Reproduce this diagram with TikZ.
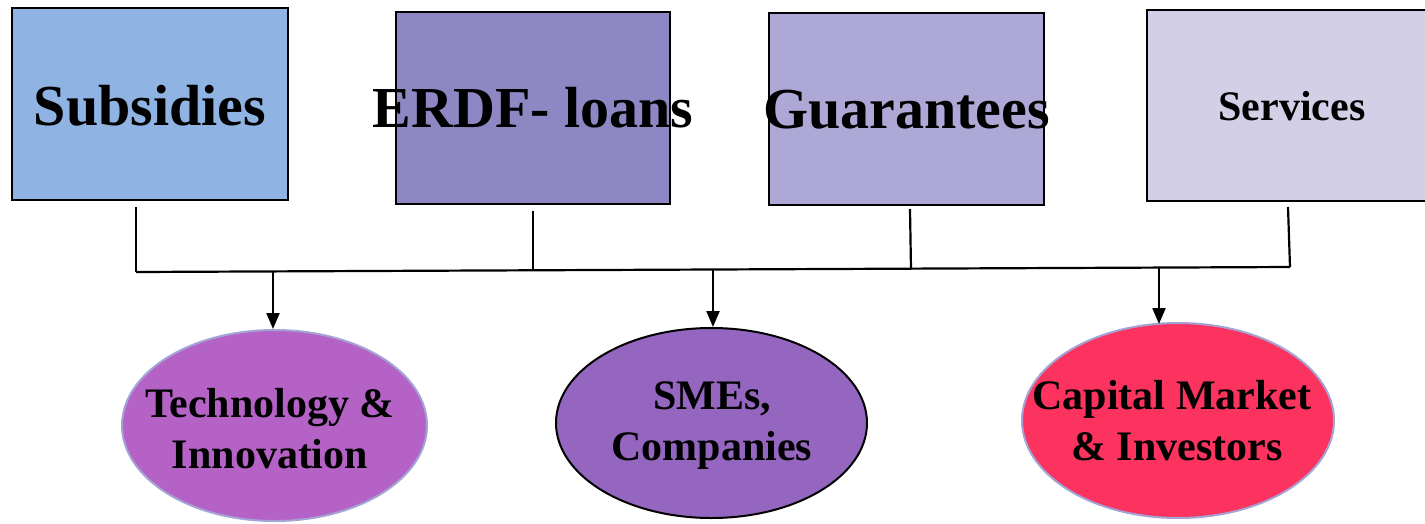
\documentclass[tikz,border=0pt]{standalone}
\usepackage{fontspec}
\setmainfont{Liberation Serif}
\usetikzlibrary{shapes.geometric,arrows.meta}
\definecolor{cSub}{HTML}{8FB4E3}
\definecolor{cErdf}{HTML}{8D87C4}
\definecolor{cGua}{HTML}{ADA8D5}
\definecolor{cSer}{HTML}{D3CFE7}
\definecolor{cTech}{HTML}{B562C6}
\definecolor{cSme}{HTML}{9566C0}
\definecolor{cCap}{HTML}{FB335E}
\definecolor{cRim}{HTML}{A3A3D6}
\tikzset{
  box/.style={draw=black, line width=2pt, inner sep=0pt, font=\bfseries\fontsize{58}{66}\selectfont},
  oval/.style={ellipse, line width=2pt, inner sep=0pt},
  ovaltext/.style={align=center, inner sep=0pt, font=\bfseries\fontsize{42}{51}\selectfont},
  wire/.style={line width=2.2pt},
  arrow/.style={line width=2.2pt, -{Triangle[length=16pt,width=13pt]}}
}
\begin{document}
\begin{tikzpicture}[x=1pt,y=-1pt]
\useasboundingbox (0,0) rectangle (1425,523);
\clip (0,0) rectangle (1425,523);
% boxes
\node[box, fill=cSub, minimum width=276pt, minimum height=192pt] (s1) at (150,104) {};
\node[box, fill=cErdf, minimum width=274pt, minimum height=192pt] (s2) at (533,108) {};
\node[box, fill=cGua, minimum width=275pt, minimum height=192pt] (s3) at (906.5,109) {};
\node[box, fill=cSer, minimum width=290pt, minimum height=191pt] (s4) at (1292,105.5) {};
\node[font=\bfseries\fontsize{58}{66}\selectfont, inner sep=0pt] (s1t) at (150,106) {Subsidies};
\node[font=\bfseries\fontsize{58}{66}\selectfont, inner sep=0pt] (s2t) at (533,108) {ERDF- loans};
\node[font=\bfseries\fontsize{58}{66}\selectfont, inner sep=0pt] (s3t) at (906.5,110) {Guarantees};
\node[font=\bfseries\fontsize{42}{50}\selectfont, inner sep=0pt] (s4t) at (1292,106) {Services};
% ellipses
\node[oval, draw=cRim, fill=cTech, minimum width=305pt, minimum height=191pt] (e1) at (274.5,425.5) {};
\node[oval, draw=black, fill=cSme, minimum width=311pt, minimum height=190pt] (e2) at (711.5,423) {};
\node[oval, draw=cRim, fill=cCap, minimum width=312pt, minimum height=195pt] (e3) at (1178,420.5) {};
\node[ovaltext] (e1t) at (270,429) {Technology \&\\Innovation};
\node[ovaltext] (e2t) at (712,426) {SMEs,\\Companies};
\node[ovaltext] (e3t) at (1172,421) {Capital Market\\\hspace*{10pt}\& Investors};
% connector coordinates
\coordinate (t1) at (136,207);
\coordinate (t2) at (533,211);
\coordinate (t3) at (910,209);
\coordinate (t4) at (1288,207);
\coordinate (b1) at (136,272);
\coordinate (b2) at (533,271);
\coordinate (b3) at (911,269.5);
\coordinate (b4) at (1290,267);
\coordinate (a1) at (273,271.5);
\coordinate (a2) at (713,270);
\coordinate (a3) at (1159,268);
% wires
\draw[wire] (t1) -- (b1);
\draw[wire] (t2) -- (b2);
\draw[wire] (t3) -- (b3);
\draw[wire] (t4) -- (b4);
\draw[wire] (b1) -- (b4);
\draw[arrow] (a1) -- (a1 |- e1.north);
\draw[arrow] (a2) -- (a2 |- e2.north);
\draw[arrow] (a3) -- (1159,324);
\end{tikzpicture}
\end{document}
